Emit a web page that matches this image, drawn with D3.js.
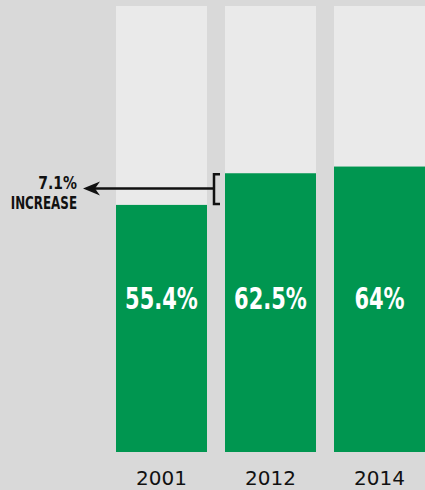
<!DOCTYPE html>
<html>
<head>
<meta charset="utf-8">
<script src="https://cdn.jsdelivr.net/npm/d3@7"></script>
<style>
  body { margin: 0; background: #d9d9d9; }
  svg { display: block; }
</style>
</head>
<body>
<div id="chart"></div>
<script>
// data
const years = ["2001", "2012", "2014"];
const values = [55.4, 62.5, 64];
const valueLabels = ["55.4%", "62.5%", "64%"];
const increaseLabel = ["7.1%", "INCREASE"];

const W = 425, H = 490;
const boldFont = "'DejaVu Sans', sans-serif";

const svg = d3.select("#chart").append("svg")
    .attr("width", W)
    .attr("height", H);

svg.append("rect").attr("width", W).attr("height", H).attr("fill", "#d9d9d9");

const x = d3.scaleBand()
    .domain(years)
    .range([116, 425])
    .paddingInner(18 / 109)
    .paddingOuter(0);

const y = d3.scaleLinear()
    .domain([0, 100])
    .range([452, 6]);

// background columns (100%)
svg.selectAll(".bg")
    .data(years)
    .enter()
    .append("rect")
    .attr("class", "bg")
    .attr("x", d => x(d))
    .attr("y", y(100))
    .attr("width", x.bandwidth())
    .attr("height", y(0) - y(100))
    .attr("fill", "#eaeaea");

// value bars
svg.selectAll(".bar")
    .data(values)
    .enter()
    .append("rect")
    .attr("class", "bar")
    .attr("x", (d, i) => x(years[i]))
    .attr("y", d => y(d))
    .attr("width", x.bandwidth())
    .attr("height", d => y(0) - y(d))
    .attr("fill", "#009650");

// value labels (squeezed horizontally to look like a condensed face)
svg.selectAll(".val")
    .data(valueLabels)
    .enter()
    .append("text")
    .attr("class", "val")
    .attr("transform", (d, i) => `translate(${x(years[i]) + x.bandwidth() / 2},309) scale(0.7,1)`)
    .attr("text-anchor", "middle")
    .attr("fill", "#fff")
    .style("font-family", boldFont)
    .style("font-weight", "bold")
    .style("font-size", "30px")
    .text(d => d);

// year labels
svg.selectAll(".year")
    .data(years)
    .enter()
    .append("text")
    .attr("class", "year")
    .attr("x", d => x(d) + x.bandwidth() / 2)
    .attr("y", 485)
    .attr("text-anchor", "middle")
    .attr("fill", "#111")
    .style("font-family", "'DejaVu Sans', sans-serif")
    .style("font-size", "20px")
    .text(d => d);

// increase annotation: bracket spanning 2001 -> 2012 level beside the 2012 bar
const bx = x(years[1]) - 11;
const yTop = y(values[1]), yBot = y(values[0]);
svg.append("path")
    .attr("d", `M${bx + 6},${yTop + 1} H${bx} V${yBot - 1} H${bx + 6}`)
    .attr("fill", "none")
    .attr("stroke", "#111")
    .attr("stroke-width", 2.5);

const ay = (yTop + yBot) / 2 - 0.5;
svg.append("line")
    .attr("x1", bx)
    .attr("x2", 92)
    .attr("y1", ay)
    .attr("y2", ay)
    .attr("stroke", "#111")
    .attr("stroke-width", 2.5);

svg.append("path")
    .attr("d", `M83,${ay} L100,${ay - 7} L95,${ay} L100,${ay + 7} Z`)
    .attr("fill", "#111");

svg.selectAll(".inc")
    .data(increaseLabel)
    .enter()
    .append("text")
    .attr("class", "inc")
    .attr("transform", (d, i) => `translate(77,${189 + i * 20}) scale(${i === 0 ? 0.82 : 0.7},1)`)
    .attr("text-anchor", "end")
    .attr("fill", "#111")
    .style("font-family", boldFont)
    .style("font-weight", "bold")
    .style("font-size", "17px")
    .text(d => d);
</script>
</body>
</html>
